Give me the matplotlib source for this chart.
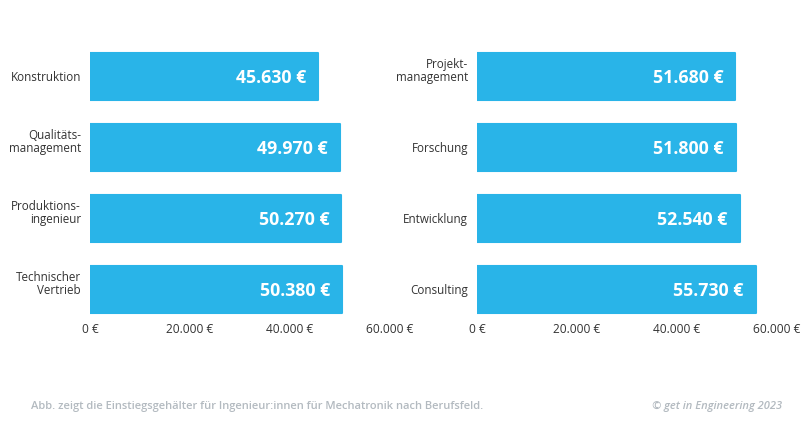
import matplotlib.pyplot as plt
from matplotlib.ticker import FuncFormatter

plt.rcParams['font.family'] = ['Open Sans', 'DejaVu Sans']

left_jobs = ['Konstruktion', 'Qualitäts-\nmanagement', 'Produktions-\ningenieur', 'Technischer\nVertrieb']
left_vals = [45630, 49970, 50270, 50380]
right_jobs = ['Projekt-\nmanagement', 'Forschung', 'Entwicklung', 'Consulting']
right_vals = [51680, 51800, 52540, 55730]
xticks = [0, 20000, 40000, 60000]

blue = '#29b4e8'

def euro(v, pos=None):
    return '{:,.0f} €'.format(v).replace(',', '.')

fig = plt.figure(figsize=(8.06, 4.23), dpi=100)
ax1 = fig.add_axes([0.1117, 0.2506, 0.3722, 0.643])
ax2 = fig.add_axes([0.5918, 0.2506, 0.3722, 0.643])

for ax, jobs, vals in [(ax1, left_jobs, left_vals), (ax2, right_jobs, right_vals)]:
    ypos = list(range(len(jobs)))
    ax.barh(ypos, vals, height=0.66, color=blue, edgecolor=blue, linewidth=1.5,
            joinstyle='round')
    for y, v in zip(ypos, vals):
        ax.text(v - 2400, y, euro(v), ha='right', va='center_baseline', color='white',
                fontsize=12.8, fontweight='bold')
    ax.set_yticks(ypos)
    # two-line labels sit a bit above the bar centre in the original,
    # an empty third line pushes them up by half a line
    ax.set_yticklabels([j + '\n' if '\n' in j else j for j in jobs],
                       fontsize=8.4, color='#333333', linespacing=1.0)
    ax.set_ylim(3.39, -0.44)
    ax.set_xlim(0, 60000)
    ax.set_xticks(xticks)
    ax.xaxis.set_major_formatter(FuncFormatter(euro))
    ax.tick_params(axis='x', length=0, labelsize=8.6, colors='#333333', pad=4)
    ax.tick_params(axis='y', length=0, pad=6.5)
    for s in ax.spines.values():
        s.set_visible(False)

fig.text(0.0385, 0.04, 'Abb. zeigt die Einstiegsgehälter für Ingenieur:innen für Mechatronik nach Berufsfeld.',
         fontsize=8.0, color='#b3bac0', fontweight='semibold', ha='left', va='center')
fig.text(0.97, 0.04, '© get in Engineering 2023', fontsize=8.0, color='#b3bac0',
         fontweight='semibold', style='italic', ha='right', va='center')

fig.savefig('out.png', dpi=100)
